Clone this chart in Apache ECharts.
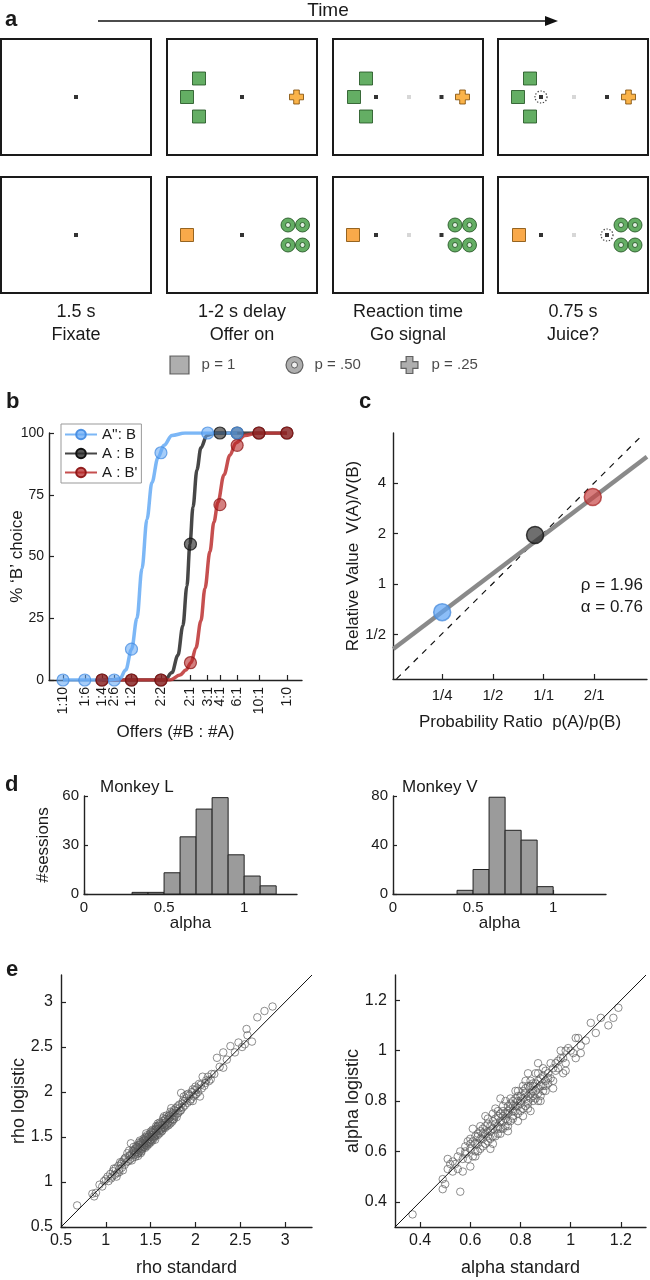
<!DOCTYPE html>
<html><head><meta charset="utf-8">
<script src="https://cdn.jsdelivr.net/npm/echarts@6/dist/echarts.min.js"></script>
<style>html,body{margin:0;padding:0;background:#fff}#c{width:650px;height:1280px}</style>
</head><body><div id="c"></div>
<script>
const FONT = '"Liberation Sans", Arial, Helvetica, sans-serif';
const TXT = '#1a1a1a';

// ---------------- Panel a (task schematic) ----------------
const stageCaptions = ['1.5 s\nFixate', '1-2 s delay\nOffer on', 'Reaction time\nGo signal', '0.75 s\nJuice?'];
const probLabels = ['p = 1', 'p = .50', 'p = .25'];
// icon placements inside each screen (screen units, origin at screen centre)
const screens = [
  {row:0,col:0, fix:[[0,0]]},
  {row:0,col:1, greenSq:[[-43,-18.5],[-55,0],[-43,19.5]], fix:[[0,0]], plus:[[54.5,0]]},
  {row:0,col:2, greenSq:[[-42,-18.5],[-54,0],[-42,19.5]], fix:[[-32,0],[33.5,0]], gray:[[1,0]], plus:[[54.5,0]]},
  {row:0,col:3, greenSq:[[-43,-18.5],[-55,0],[-43,19.5]], dotted:[[-32,0]], fix:[[-32,0],[34,0]], gray:[[1,0]], plus:[[55.5,0]]},
  {row:1,col:0, fix:[[0,0]]},
  {row:1,col:1, orangeSq:[[-55,0]], fix:[[0,0]], rings:[[46,-10],[60.5,-10],[46,10],[60.5,10]]},
  {row:1,col:2, orangeSq:[[-55,0]], fix:[[-32,0],[33.5,0]], gray:[[1,0]], rings:[[47,-10],[61.5,-10],[47,10],[61.5,10]]},
  {row:1,col:3, orangeSq:[[-54,0]], dotted:[[34,0]], fix:[[-32,0],[34,0]], gray:[[1,0]], rings:[[48,-10],[62,-10],[48,10],[62,10]]}
];

// ---------------- Panel b (choice curves) ----------------
const offerLabels = ['1:10','1:6','1:4','2:6','1:2','2:2','2:1','3:1','4:1','6:1','10:1','1:0'];
const offerPos = [-1, -0.778, -0.602, -0.477, -0.301, 0, 0.301, 0.477, 0.602, 0.778, 1, 1.286];
const seriesNames = ["A'': B", 'A : B', "A : B'"];
const blueOffers = ['1:10','1:6','2:6','1:2','2:2','3:1','6:1'];
const bluePct = [0, 0, 0, 12.5, 92, 100, 100];
const blackOffers = ['1:4','1:2','2:2','2:1','4:1','6:1','10:1','1:0'];
const blackPct = [0, 0, 0, 55, 100, 100, 100, 100];
const redOffers = ['1:4','1:2','2:2','2:1','4:1','6:1','10:1','1:0'];
const redPct = [0, 0, 0, 7, 71, 95, 100, 100];
const blueFitX = [-1.0, -0.52, -0.42, -0.36, -0.30, -0.245, -0.194, -0.143, -0.092, -0.031, 0.031, 0.112, 0.245, 0.778];
const blueFitY = [0, 0, 0.5, 4, 12.5, 25, 45, 65, 80, 90, 95, 99, 100, 100];
const blackFitX = [-0.602, 0.041, 0.112, 0.173, 0.224, 0.265, 0.296, 0.327, 0.367, 0.408, 0.469, 0.551, 1.286];
const blackFitY = [0, 0, 3, 10, 22, 38, 55, 70, 85, 94, 99, 100, 100];
const redFitX = [-0.602, 0.092, 0.194, 0.255, 0.306, 0.357, 0.408, 0.449, 0.5, 0.541, 0.582, 0.643, 0.704, 0.765, 0.857, 0.98, 1.286];
const redFitY = [0, 0, 2, 4, 7, 13, 24, 37, 52, 64, 72, 83, 91, 96, 99, 100, 100];

// ---------------- Panel c (relative value) ----------------
const cTickRatios = [0.25, 0.5, 1, 2];
const cTickRatioLabels = ['1/4', '1/2', '1/1', '2/1'];
const cTickValues = [0.5, 1, 2, 4];
const cTickValueLabels = ['1/2', '1', '2', '4'];
const cRatio = [0.25, 0.89, 1.96];
const cValue = [0.68, 1.96, 3.3];
const fitRatio = [0.128, 4.11];
const fitValue = [0.41, 5.74];
const unitSlopeRatio = [0.134, 3.73];
const unitSlopeValue = [0.272, 7.46];
const rhoFit = 1.96, alphaFit = 0.76;

// ---------------- Panel d (alpha histograms) ----------------
const binStartL = [0.3, 0.4, 0.5, 0.6, 0.7, 0.8, 0.9, 1.0, 1.1];
const countsL   = [1, 1, 13, 35, 52, 59, 24, 11, 5];
const binStartV = [0.4, 0.5, 0.6, 0.7, 0.8, 0.9];
const countsV   = [3, 20, 79, 52, 44, 6];
const binWidth = 0.1;

// ---------------- Panel e (standard vs logistic) ----------------
const rhoPts = [[0.68,0.74],[0.85,0.87],[0.87,0.84],[0.89,0.88],[0.93,0.97],[0.96,0.95],[0.98,1.01],[1.0,1.03],[1.02,1.06],[1.03,1.01],[1.05,1.09],[1.06,1.04],[1.08,1.12],[1.1,1.08],[1.11,1.15],[1.13,1.1],[1.14,1.18],[1.15,1.14],[1.17,1.2],[1.18,1.16],[1.2,1.24],[1.21,1.19],[1.22,1.27],[1.23,1.22],[1.25,1.23],[1.26,1.29],[1.27,1.25],[1.28,1.43],[1.29,1.31],[1.3,1.27],[1.31,1.34],[1.32,1.3],[1.33,1.37],[1.34,1.33],[1.35,1.39],[1.35,1.31],[1.36,1.36],[1.37,1.41],[1.37,1.33],[1.38,1.38],[1.39,1.44],[1.39,1.35],[1.4,1.4],[1.41,1.45],[1.41,1.37],[1.42,1.42],[1.43,1.47],[1.43,1.39],[1.44,1.43],[1.45,1.49],[1.45,1.41],[1.46,1.46],[1.47,1.5],[1.47,1.43],[1.48,1.48],[1.49,1.53],[1.49,1.45],[1.5,1.5],[1.51,1.55],[1.51,1.47],[1.52,1.52],[1.53,1.57],[1.53,1.5],[1.54,1.54],[1.55,1.58],[1.55,1.51],[1.56,1.56],[1.57,1.61],[1.57,1.53],[1.58,1.59],[1.59,1.63],[1.6,1.57],[1.6,1.6],[1.61,1.65],[1.62,1.59],[1.63,1.63],[1.64,1.68],[1.65,1.61],[1.66,1.66],[1.67,1.7],[1.68,1.64],[1.69,1.69],[1.7,1.73],[1.71,1.67],[1.72,1.72],[1.73,1.82],[1.74,1.7],[1.75,1.76],[1.76,1.8],[1.77,1.73],[1.78,1.79],[1.8,1.84],[1.81,1.77],[1.82,1.82],[1.84,1.99],[1.85,1.87],[1.86,1.83],[1.88,1.9],[1.9,1.93],[1.91,1.88],[1.93,1.96],[1.95,1.92],[1.96,2.0],[1.98,1.95],[1.99,2.02],[2.01,1.98],[2.02,2.04],[2.05,1.95],[2.06,2.08],[2.08,2.17],[2.1,2.07],[2.12,2.13],[2.15,2.12],[2.18,2.2],[2.21,2.2],[2.24,2.38],[2.27,2.28],[2.31,2.27],[2.31,2.44],[2.35,2.36],[2.39,2.51],[2.44,2.44],[2.48,2.55],[2.52,2.5],[2.55,2.53],[2.57,2.7],[2.58,2.63],[2.63,2.56],[2.69,2.83],[2.77,2.9],[2.86,2.95],
[1.31,1.39],[1.33,1.28],[1.36,1.32],[1.38,1.46],[1.4,1.34],[1.42,1.48],[1.44,1.38],[1.46,1.52],[1.48,1.42],[1.5,1.56],[1.52,1.46],[1.54,1.49],[1.56,1.62],[1.58,1.52],[1.6,1.66],[1.62,1.56],[1.64,1.71],[1.66,1.6],[1.68,1.74],[1.7,1.63],[1.72,1.78],[1.74,1.67],[1.76,1.74],[1.79,1.72],[1.83,1.79],[1.87,1.95],[1.92,1.98],[1.97,1.9],[2.0,2.06],[2.03,2.0],[1.24,1.32],[1.19,1.13],[1.16,1.22],[1.12,1.06],[1.09,1.15],[1.44,1.5],[1.5,1.44],[1.58,1.65],[1.63,1.57],[1.69,1.65],[1.37,1.44],[1.29,1.24],[1.26,1.35],
[1.32,1.35],[1.34,1.4],[1.36,1.29],[1.38,1.42],[1.4,1.37],[1.42,1.39],[1.44,1.46],[1.46,1.4],[1.48,1.51],[1.5,1.47],[1.52,1.58],[1.54,1.51],[1.56,1.53],[1.58,1.62],[1.6,1.54],[1.62,1.63],[1.64,1.6],[1.66,1.7],[1.68,1.62],[1.7,1.7],[1.72,1.65],[1.74,1.77],[1.76,1.7],[1.78,1.82],[1.8,1.76],[1.82,1.86],[1.84,1.8],[1.86,1.9],[1.88,1.85],[1.9,1.97],[1.94,1.9],[1.97,2.03],[2.0,1.97],[2.04,2.09],[2.07,2.04],[2.11,2.1],[2.14,2.17],[2.17,2.14],[1.36,1.38],[1.41,1.43],[1.46,1.44],[1.51,1.52],[1.56,1.59],[1.61,1.58],[1.66,1.63],[1.71,1.74],[1.39,1.32],[1.45,1.54],[1.55,1.47],[1.65,1.73],[1.75,1.69],[1.18,1.22],[1.21,1.26],[1.07,1.06],[1.15,1.11],[1.27,1.3],[1.3,1.35],[1.33,1.33],[1.43,1.41],[1.53,1.55]];
const alphaPts = [[0.37,0.35],[0.49,0.45],[0.5,0.47],[0.49,0.49],[0.56,0.44],[0.57,0.52],[0.6,0.54],[0.51,0.57],[0.51,0.53],[0.53,0.56],[0.55,0.58],[0.56,0.6],[0.58,0.59],[0.58,0.62],[0.59,0.57],[0.6,0.61],[0.61,0.64],[0.62,0.6],[0.62,0.66],[0.63,0.63],[0.64,0.61],[0.64,0.68],[0.65,0.65],[0.65,0.62],[0.66,0.7],[0.66,0.67],[0.67,0.64],[0.67,0.71],[0.68,0.68],[0.68,0.65],[0.69,0.72],[0.69,0.69],[0.7,0.66],[0.7,0.73],[0.71,0.7],[0.71,0.67],[0.72,0.75],[0.72,0.72],[0.73,0.69],[0.73,0.76],[0.74,0.73],[0.74,0.7],[0.75,0.78],[0.75,0.75],[0.76,0.72],[0.76,0.79],[0.77,0.76],[0.77,0.73],[0.78,0.81],[0.78,0.78],[0.79,0.75],[0.79,0.82],[0.8,0.79],[0.8,0.76],[0.81,0.84],[0.81,0.81],[0.82,0.78],[0.82,0.85],[0.83,0.82],[0.83,0.79],[0.84,0.86],[0.84,0.83],[0.85,0.8],[0.85,0.87],[0.86,0.84],[0.86,0.81],[0.87,0.88],[0.87,0.85],[0.88,0.82],[0.88,0.89],[0.89,0.86],[0.9,0.88],[0.9,0.84],[0.91,0.91],[0.92,0.89],[0.93,0.93],[0.94,0.92],[0.95,0.96],[0.96,1.0],[0.97,0.91],[0.97,0.97],[0.98,1.0],[0.98,0.95],[1.0,1.0],[1.02,0.97],[1.03,1.05],[1.04,0.99],[1.04,1.02],[1.06,1.04],[1.08,1.11],[1.1,1.07],[1.12,1.13],[1.15,1.1],[1.17,1.13],[1.19,1.17],[0.87,0.95],[0.83,0.91],[0.72,0.81],[0.61,0.69],[0.55,0.53],[0.62,0.58],[0.68,0.61],[0.75,0.68],[0.79,0.72],[0.84,0.76],[0.88,0.8],[0.93,0.85],[0.66,0.74],[0.7,0.77],[0.74,0.8],[0.78,0.84],[0.82,0.88],[0.86,0.91],
[0.63,0.67],[0.65,0.69],[0.67,0.68],[0.69,0.66],[0.71,0.74],[0.73,0.72],[0.75,0.72],[0.77,0.8],[0.79,0.78],[0.81,0.77],[0.83,0.86],[0.85,0.84],[0.87,0.83],[0.89,0.9],[0.91,0.87],[0.6,0.63],[0.57,0.57],[0.54,0.55],[0.64,0.65],[0.72,0.69],[0.76,0.77],[0.8,0.82],[0.84,0.81],[0.9,0.92],[0.94,0.95],
[0.6,0.65],[0.62,0.63],[0.63,0.6],[0.64,0.7],[0.66,0.63],[0.67,0.73],[0.68,0.7],[0.69,0.63],[0.7,0.71],[0.71,0.76],[0.72,0.67],[0.73,0.78],[0.74,0.75],[0.75,0.7],[0.76,0.81],[0.77,0.74],[0.78,0.76],[0.79,0.84],[0.8,0.8],[0.81,0.74],[0.82,0.83],[0.83,0.77],[0.84,0.88],[0.85,0.82],[0.86,0.87],[0.87,0.8],[0.88,0.86],[0.89,0.93],[0.9,0.86],[0.91,0.89],[0.92,0.95],[0.93,0.88],[0.95,0.93],[0.96,0.97],[0.98,0.92],[0.99,1.01],[1.01,0.99],[1.02,1.05],[0.58,0.6],[0.59,0.64],[0.61,0.58],[0.63,0.66],[0.65,0.67],[0.67,0.66],[0.69,0.75],[0.71,0.69],[0.73,0.74],[0.75,0.76],[0.77,0.78],[0.79,0.8],[0.81,0.86],[0.83,0.8],[0.85,0.86],[0.87,0.91],[0.89,0.84],[0.53,0.52],[0.52,0.55]];
const rhoRange = [0.5, 3.3], rhoTicks = [0.5, 1, 1.5, 2, 2.5, 3];
const alphaRange = [0.3, 1.3], alphaTicks = [0.4, 0.6, 0.8, 1, 1.2];

// ================= build option =================
const grids = [], xAxes = [], yAxes = [], series = [];
const lineSt = {show:true, onZero:false, lineStyle:{color:'#222', width:1.4}};
const tickSt = {show:true, inside:true, length:5, lineStyle:{color:'#222', width:1.2}};
const lab = (fs, extra) => Object.assign({color:TXT, fontSize:fs, fontFamily:FONT}, extra||{});
const nameSt = (fs) => ({color:TXT, fontSize:fs, fontFamily:FONT});
function addGrid(g){ grids.push(Object.assign({containLabel:false, outerBoundsMode:'none'}, g)); return grids.length-1; }

// Panel a screens
const screenLefts = [1, 167, 333, 498], rowTops = [39, 177];
const PLUS = 'path://M3,0L7,0L7,3L10,3L10,7L7,7L7,10L3,10L3,7L0,7L0,3L3,3Z';
const icons = {
  dotted:  {symbol:'circle', size:12, st:{color:'rgba(0,0,0,0)', borderColor:'#111', borderWidth:1.2, borderType:[1.3,1.7]}},
  greenSq: {symbol:'rect', size:13, st:{color:'#3d9a3d', borderColor:'#1b4d1b', borderWidth:1}},
  orangeSq:{symbol:'rect', size:13, st:{color:'#f7941d', borderColor:'#7a4700', borderWidth:1}},
  plus:    {symbol:PLUS, size:14, st:{color:'#f9a01b', borderColor:'#7a4700', borderWidth:1}},
  fix:     {symbol:'rect', size:4, st:{color:'#000'}},
  gray:    {symbol:'rect', size:4, st:{color:'#cdcdcd'}}
};
screens.forEach(s => {
  const gi = addGrid({left:screenLefts[s.col], top:rowTops[s.row], width:150, height:116, show:true, borderColor:'#1a1a1a', borderWidth:2, backgroundColor:'#fff'});
  const bottom = s.row === 1;
  xAxes.push({gridIndex:gi, type:'value', min:-75, max:75, show:bottom, axisLine:{show:false}, axisTick:{show:false}, axisLabel:{show:false}, splitLine:{show:false},
    name: bottom ? stageCaptions[s.col] : '', nameLocation:'middle', nameGap:8, nameMoveOverlap:false, nameTextStyle:Object.assign(nameSt(18), {lineHeight:23, verticalAlign:'top'})});
  yAxes.push({gridIndex:gi, type:'value', min:-58, max:58, inverse:true, show:false});
  const push = (data, ic) => series.push({type:'scatter', xAxisIndex:gi, yAxisIndex:gi, data, symbol:ic.symbol, symbolSize:ic.size, itemStyle:ic.st, silent:true, animation:false, z:3});
  if (s.greenSq) push(s.greenSq, icons.greenSq);
  if (s.orangeSq) push(s.orangeSq, icons.orangeSq);
  if (s.plus) push(s.plus, icons.plus);
  if (s.rings) {
    push(s.rings, {symbol:'circle', size:14, st:{color:'#3d9a3d', borderColor:'#1b4d1b', borderWidth:1}});
    push(s.rings, {symbol:'circle', size:5, st:{color:'#fff', borderColor:'#1b4d1b', borderWidth:1}});
  }
  if (s.dotted) push(s.dotted, icons.dotted);
  if (s.gray) push(s.gray, icons.gray);
  if (s.fix) push(s.fix, icons.fix);
});

// probability legend row
{
  const gi = addGrid({left:122, top:355, width:345, height:20});
  xAxes.push({gridIndex:gi, type:'category', data:probLabels, show:false});
  yAxes.push({gridIndex:gi, type:'value', min:0, max:1, show:false});
  const lbl = (k, d) => ({show:true, position:'right', distance:d, formatter:probLabels[k], color:TXT, fontSize:15, fontFamily:FONT});
  const gs = {color:'#9a9a9a', borderColor:'#444', borderWidth:1.2};
  series.push({type:'scatter', xAxisIndex:gi, yAxisIndex:gi, data:[[0,0.5]], symbol:'rect', symbolSize:[19,18], itemStyle:gs, label:lbl(0,12), silent:true});
  series.push({type:'scatter', xAxisIndex:gi, yAxisIndex:gi, data:[[1,0.5]], symbol:'circle', symbolSize:17, itemStyle:gs, label:lbl(1,11), silent:true});
  series.push({type:'scatter', xAxisIndex:gi, yAxisIndex:gi, data:[[1,0.5]], symbol:'circle', symbolSize:6, itemStyle:{color:'#fff', borderColor:'#444', borderWidth:1}, silent:true});
  series.push({type:'scatter', xAxisIndex:gi, yAxisIndex:gi, data:[[2,0.5]], symbol:PLUS, symbolSize:17, itemStyle:gs, label:lbl(2,13), silent:true});
}

// Panel b
{
  const gi = addGrid({left:49, top:433, width:253, height:247});
  const nearest = v => { let b = 0; offerPos.forEach((p,i)=>{ if (Math.abs(p-v) < Math.abs(offerPos[b]-v)) b = i; }); return b; };
  xAxes.push({gridIndex:gi, type:'value', min:-1.143, max:1.44, axisLine:lineSt, axisTick:Object.assign({customValues:offerPos}, tickSt),
    axisLabel:lab(14, {customValues:offerPos, rotate:90, margin:7, formatter:v => offerLabels[nearest(v)]}), splitLine:{show:false},
    name:'Offers (#B : #A)', nameLocation:'middle', nameGap:44, nameMoveOverlap:false, nameTextStyle:nameSt(17)});
  yAxes.push({gridIndex:gi, type:'value', min:0, max:100, interval:25, axisLine:lineSt, axisTick:tickSt, axisLabel:lab(14, {margin:5}), splitLine:{show:false},
    name:'% ‘B’ choice', nameLocation:'middle', nameGap:23, nameMoveOverlap:false, nameTextStyle:nameSt(17)});
  const cols = [
    {line:'rgba(110,175,245,0.9)', fill:'rgba(100,168,245,0.72)', border:'rgba(70,140,225,0.95)'},
    {line:'rgba(55,55,55,0.92)', fill:'rgba(40,40,40,0.78)', border:'#111'},
    {line:'rgba(190,55,55,0.88)', fill:'rgba(180,35,35,0.72)', border:'rgba(140,20,20,0.95)'}
  ];
  const fits = [[blueFitX, blueFitY], [blackFitX, blackFitY], [redFitX, redFitY]];
  const pts = [[blueOffers, bluePct], [blackOffers, blackPct], [redOffers, redPct]];
  [1,2,0].forEach(k => {
    series.push({type:'line', name:seriesNames[k], xAxisIndex:gi, yAxisIndex:gi, data:fits[k][0].map((x,i)=>[x, fits[k][1][i]]),
      smooth:0.35, smoothMonotone:'x', showSymbol:false, symbol:'circle', symbolSize:12,
      lineStyle:{color:cols[k].line, width:3.5}, itemStyle:{color:cols[k].fill, borderColor:cols[k].border, borderWidth:1.2}, z:2, animation:false});
  });
  [1,2,0].forEach(k => {
    series.push({type:'scatter', name:seriesNames[k], xAxisIndex:gi, yAxisIndex:gi,
      data:pts[k][0].map((o,i)=>[offerPos[offerLabels.indexOf(o)], pts[k][1][i]]),
      symbol:'circle', symbolSize:12, itemStyle:{color:cols[k].fill, borderColor:cols[k].border, borderWidth:1.2}, z:4, clip:false, animation:false});
  });
}

// Panel c
{
  const gi = addGrid({left:393, top:433, width:254, height:246});
  const xt = cTickRatios.map(Math.log2), yt = cTickValues.map(Math.log2);
  const near = (arr, v) => { let b=0; arr.forEach((p,i)=>{ if (Math.abs(p-v) < Math.abs(arr[b]-v)) b=i; }); return b; };
  xAxes.push({gridIndex:gi, type:'value', min:-2.97, max:2.04, axisLine:lineSt, axisTick:Object.assign({customValues:xt}, tickSt),
    axisLabel:lab(15, {customValues:xt, margin:9, formatter:v => cTickRatioLabels[near(xt, v)]}), splitLine:{show:false},
    name:'Probability Ratio  p(A)/p(B)', nameLocation:'middle', nameGap:35, nameMoveOverlap:false, nameTextStyle:nameSt(17)});
  yAxes.push({gridIndex:gi, type:'value', min:-1.88, max:2.99, axisLine:lineSt, axisTick:Object.assign({customValues:yt}, tickSt),
    axisLabel:lab(15, {customValues:yt, margin:7, formatter:v => cTickValueLabels[near(yt, v)]}), splitLine:{show:false},
    name:'Relative Value  V(A)/V(B)', nameLocation:'middle', nameGap:31, nameMoveOverlap:false, nameTextStyle:nameSt(17)});
  series.push({type:'line', xAxisIndex:gi, yAxisIndex:gi, data:unitSlopeRatio.map((r,i)=>[Math.log2(r), Math.log2(unitSlopeValue[i])]),
    showSymbol:false, lineStyle:{color:'#111', width:1.2, type:[6,6]}, z:2, animation:false, silent:true});
  series.push({type:'line', xAxisIndex:gi, yAxisIndex:gi, data:fitRatio.map((r,i)=>[Math.log2(r), Math.log2(fitValue[i])]),
    showSymbol:false, lineStyle:{color:'#8a8a8a', width:4.5}, z:3, animation:false, silent:true});
  const pc = [{color:'rgba(95,165,245,0.9)', borderColor:'rgba(75,140,220,0.95)'}, {color:'rgba(50,50,50,0.88)', borderColor:'#111'}, {color:'rgba(200,70,70,0.88)', borderColor:'rgba(170,40,40,0.95)'}];
  series.push({type:'scatter', xAxisIndex:gi, yAxisIndex:gi,
    data:cRatio.map((r,i)=>({value:[Math.log2(r), Math.log2(cValue[i])], itemStyle:Object.assign({borderWidth:1.5}, pc[i])})),
    symbol:'circle', symbolSize:17, z:4, animation:false});
}

// Panel d
function histPanel(left, binStarts, counts, yMax, yInt, yName){
  const gi = addGrid({left, top:796, width:213, height:98});
  xAxes.push({gridIndex:gi, type:'value', min:0, max:1.33, axisLine:lineSt, axisTick:Object.assign({customValues:[0,0.5,1]}, tickSt, {length:4}),
    axisLabel:lab(15, {customValues:[0,0.5,1], margin:6}), splitLine:{show:false},
    name:'alpha', nameLocation:'middle', nameGap:21, nameMoveOverlap:false, nameTextStyle:nameSt(17)});
  yAxes.push({gridIndex:gi, type:'value', min:0, max:yMax, interval:yInt, axisLine:lineSt, axisTick:Object.assign({}, tickSt, {length:4}), axisLabel:lab(15, {margin:5}), splitLine:{show:false},
    name:yName, nameLocation:'middle', nameGap:32, nameMoveOverlap:false, nameTextStyle:nameSt(17)});
  series.push({type:'custom', xAxisIndex:gi, yAxisIndex:gi, data:binStarts.map((b,i)=>[b, b+binWidth, counts[i]]),
    encode:{x:[0,1], y:2}, animation:false,
    renderItem:(params, api) => {
      const p0 = api.coord([api.value(0), api.value(2)]);
      const p1 = api.coord([api.value(1), 0]);
      return {type:'rect', shape:{x:p0[0], y:p0[1], width:p1[0]-p0[0], height:p1[1]-p0[1]}, style:{fill:'#9b9b9b', stroke:'#222', lineWidth:1}};
    }});
}
histPanel(84, binStartL, countsL, 60, 30, '#sessions');
histPanel(393, binStartV, countsV, 80, 40, '');

// Panel e
function scatterPanel(left, pts, range, ticks, xName, yName){
  const gi = addGrid({left, top:975, width:251, height:252});
  xAxes.push({gridIndex:gi, type:'value', min:range[0], max:range[1], axisLine:lineSt, axisTick:Object.assign({customValues:ticks}, tickSt),
    axisLabel:lab(16, {customValues:ticks, margin:6}), splitLine:{show:false},
    name:xName, nameLocation:'middle', nameGap:32, nameMoveOverlap:false, nameTextStyle:nameSt(18)});
  yAxes.push({gridIndex:gi, type:'value', min:range[0], max:range[1], axisLine:lineSt, axisTick:Object.assign({customValues:ticks}, tickSt),
    axisLabel:lab(16, {customValues:ticks, margin:8}), splitLine:{show:false},
    name:yName, nameLocation:'middle', nameGap:33, nameMoveOverlap:false, nameTextStyle:nameSt(18)});
  series.push({type:'scatter', xAxisIndex:gi, yAxisIndex:gi, data:pts, symbol:'circle', symbolSize:7.5,
    itemStyle:{color:'rgba(0,0,0,0)', borderColor:'rgba(90,90,90,0.85)', borderWidth:1}, z:2, animation:false, silent:true});
  series.push({type:'line', xAxisIndex:gi, yAxisIndex:gi, data:[[range[0],range[0]],[range[1],range[1]]], showSymbol:false,
    lineStyle:{color:'#111', width:1}, z:3, animation:false, silent:true});
}
scatterPanel(61, rhoPts, rhoRange, rhoTicks, 'rho standard', 'rho logistic');
scatterPanel(395, alphaPts, alphaRange, alphaTicks, 'alpha standard', 'alpha logistic');

// free text & decorations
const txt = (x, y, text, size, extra) => ({type:'text', x, y, silent:true,
  style:Object.assign({text, fill:TXT, font:(extra && extra.bold ? 'bold ' : '') + size + 'px ' + FONT, align:'left', verticalAlign:'middle'}, extra && extra.align ? {align:extra.align} : {})});
const graphic = [
  txt(5, 20, 'a', 22, {bold:true}),
  txt(328, 11, 'Time', 19, {align:'center'}),
  {type:'line', silent:true, shape:{x1:98, y1:21, x2:548, y2:21}, style:{stroke:'#111', lineWidth:1.5}},
  {type:'polygon', silent:true, shape:{points:[[545,16],[558,21],[545,26]]}, style:{fill:'#111'}},
  txt(6, 402, 'b', 22, {bold:true}),
  txt(359, 402, 'c', 22, {bold:true}),
  txt(5, 785, 'd', 22, {bold:true}),
  txt(6, 970, 'e', 22, {bold:true}),
  txt(100, 787, 'Monkey L', 17),
  txt(402, 787, 'Monkey V', 17),
  txt(643, 585, 'ρ = ' + rhoFit.toFixed(2), 17, {align:'right'}),
  txt(643, 607, 'α = ' + alphaFit.toFixed(2), 17, {align:'right'})
];

const option = {
  animation:false,
  backgroundColor:'#fff',
  textStyle:{fontFamily:FONT, color:TXT},
  grid:grids, xAxis:xAxes, yAxis:yAxes, series, graphic,
  legend:{data:seriesNames, orient:'vertical', left:61, top:424, itemWidth:32, itemHeight:12, itemGap:4,
    borderColor:'#999', borderWidth:1, backgroundColor:'#fff', padding:[3,4,3,3], borderRadius:0,
    textStyle:{color:TXT, fontSize:15, fontFamily:FONT}, selectedMode:false}
};
const chart = echarts.init(document.getElementById('c'), null, {renderer:'canvas'});
chart.setOption(option);
</script></body></html>
